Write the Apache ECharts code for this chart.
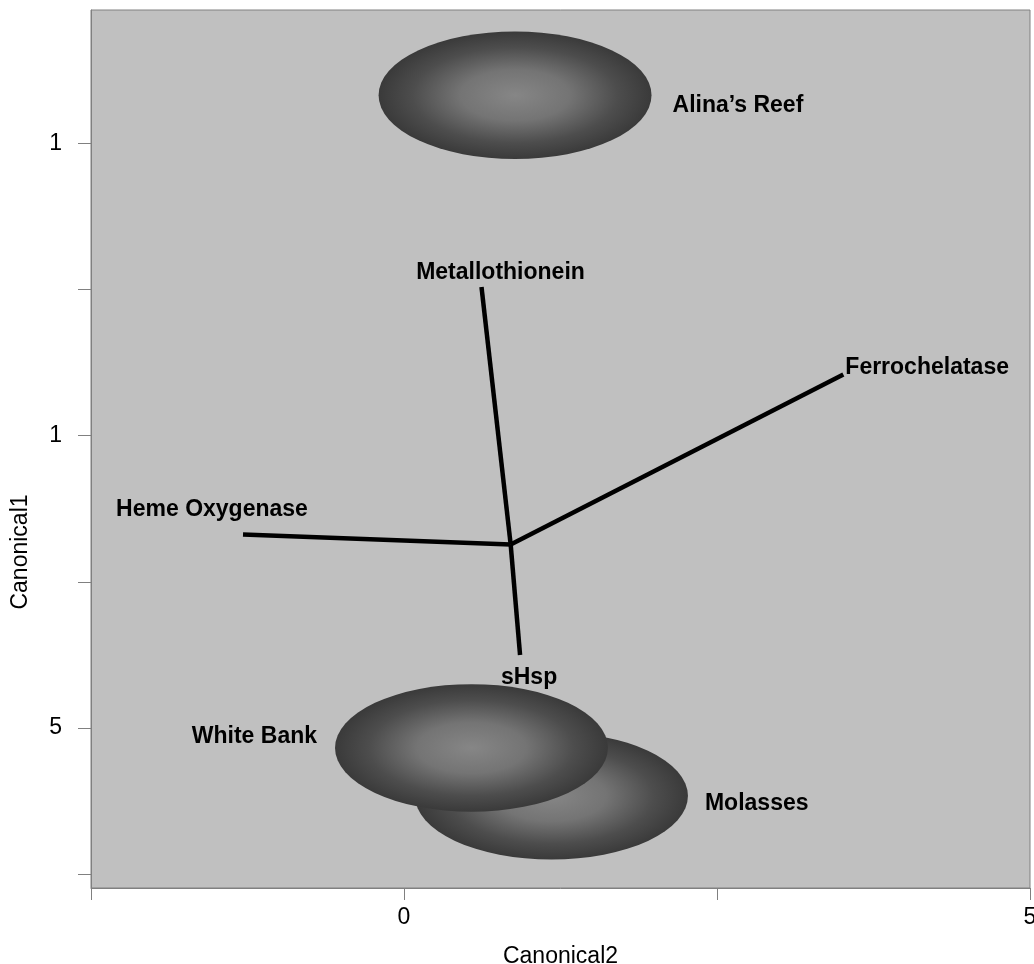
<!DOCTYPE html>
<html>
<head>
<meta charset="utf-8">
<script src="https://cdn.jsdelivr.net/npm/echarts@6/dist/echarts.min.js"></script>
<style>
  html, body { margin: 0; padding: 0; background: #ffffff; }
  #chart { width: 1034px; height: 964px; }
</style>
</head>
<body>
<div id="chart"></div>
<script>
// Site group centroids on (Canonical2, Canonical1) with their confidence radius
const siteNames = ['Alina’s Reef', 'Molasses', 'White Bank'];
const siteCanonical2 = [0.887, 1.178, 0.539];
const siteCanonical1 = [15.82, 3.84, 4.66];
const siteRadius = [1.09, 1.09, 1.09];

// Gene expression vectors, all drawn from one common origin
const vectorOrigin = [0.852, 8.138];
const geneNames = ['Metallothionein', 'Ferrochelatase', 'Heme Oxygenase', 'sHsp'];
const geneCanonical2 = [0.619, 3.509, -1.286, 0.927];
const geneCanonical1 = [12.54, 11.045, 8.31, 6.248];

// Axis tick positions and the text printed at them
const xTickValues = [-2.5, 0, 2.5, 5];
const xLabelValues = [0, 5];
const xLabelTexts = ['0', '5'];
const yTickValues = [2.5, 5, 7.5, 10, 12.5, 15];
const yLabelValues = [5, 10, 15];
const yLabelTexts = ['5', '1', '1'];

// Label placement (pixels) relative to each mark
const siteLabelPlacement = {
  'Alina’s Reef': { side: 'right', gap: 21, dy: 10 },
  'Molasses': { side: 'right', gap: 17, dy: 8 },
  'White Bank': { side: 'left', gap: 18, dy: -11 }
};
const geneLabelPlacement = {
  'Metallothionein': { dx: 19, dy: -14, align: 'center' },
  'Ferrochelatase': { dx: 2, dy: -7, align: 'left' },
  'Heme Oxygenase': { dx: -31, dy: -25, align: 'center' },
  'sHsp': { dx: 9, dy: 23, align: 'center' }
};

const FONT_FAMILY = '"Liberation Sans", Arial, Helvetica, sans-serif';
const LABEL_FONT = 'bold 23px ' + FONT_FAMILY;
const AXIS_FONT_SIZE = 23;

function lookupLabel(values, texts, v) {
  for (let i = 0; i < values.length; i++) {
    if (Math.abs(values[i] - v) < 1e-6) return texts[i];
  }
  return '';
}

function siteGradient() {
  return new echarts.graphic.RadialGradient(0.5, 0.5, 0.5, [
    { offset: 0, color: '#868686' },
    { offset: 0.4, color: '#747474' },
    { offset: 0.75, color: '#4d4d4d' },
    { offset: 1, color: '#3a3a3a' }
  ]);
}

function textEl(x, y, text, align) {
  return {
    type: 'text',
    x: x,
    y: y,
    style: {
      text: text,
      font: LABEL_FONT,
      fill: '#000000',
      textAlign: align,
      textVerticalAlign: 'middle',
      align: align,
      verticalAlign: 'middle'
    }
  };
}

const chart = echarts.init(document.getElementById('chart'), null, { renderer: 'canvas' });

const option = {
  animation: false,
  backgroundColor: '#ffffff',
  grid: {
    left: 91,
    right: 4,
    top: 10,
    bottom: 76,
    containLabel: false,
    outerBoundsMode: 'none',
    show: true,
    backgroundColor: '#c0c0c0',
    borderColor: '#808080',
    borderWidth: 1
  },
  xAxis: {
    type: 'value',
    min: -2.5,
    max: 5,
    interval: 2.5,
    name: 'Canonical2',
    nameLocation: 'middle',
    nameGap: 57,
    nameTextStyle: { fontFamily: FONT_FAMILY, fontSize: AXIS_FONT_SIZE, color: '#000000' },
    axisLine: { show: true, onZero: false, lineStyle: { color: '#808080', width: 1 } },
    axisTick: {
      show: true,
      length: 12,
      customValues: xTickValues,
      lineStyle: { color: '#808080', width: 1 }
    },
    axisLabel: {
      customValues: xLabelValues,
      formatter: v => lookupLabel(xLabelValues, xLabelTexts, v),
      margin: 18,
      fontFamily: FONT_FAMILY,
      fontSize: AXIS_FONT_SIZE,
      color: '#000000'
    },
    splitLine: { show: false }
  },
  yAxis: {
    type: 'value',
    min: 2.264,
    max: 17.278,
    axisLine: { show: true, onZero: false, lineStyle: { color: '#808080', width: 1 } },
    axisTick: {
      show: true,
      length: 13,
      customValues: yTickValues,
      lineStyle: { color: '#808080', width: 1 }
    },
    axisLabel: {
      customValues: yLabelValues,
      formatter: v => lookupLabel(yLabelValues, yLabelTexts, v),
      margin: 29,
      fontFamily: FONT_FAMILY,
      fontSize: AXIS_FONT_SIZE,
      color: '#000000'
    },
    splitLine: { show: false }
  },
  graphic: [
    {
      type: 'text',
      x: 21,
      y: 552,
      rotation: Math.PI / 2,
      style: {
        text: 'Canonical1',
        font: AXIS_FONT_SIZE + 'px ' + FONT_FAMILY,
        fill: '#000000',
        textAlign: 'center',
        textVerticalAlign: 'middle',
        align: 'center',
        verticalAlign: 'middle'
      }
    }
  ],
  series: [
    {
      name: 'sites',
      type: 'custom',
      coordinateSystem: 'cartesian2d',
      silent: true,
      data: siteNames.map((n, i) => [siteCanonical2[i], siteCanonical1[i], siteRadius[i]]),
      renderItem: function (params, api) {
        const c = api.coord([api.value(0), api.value(1)]);
        const s = api.size([api.value(2), api.value(2)]);
        const rx = s[0], ry = s[1];
        const name = siteNames[params.dataIndex];
        const p = siteLabelPlacement[name];
        const lx = p.side === 'right' ? c[0] + rx + p.gap : c[0] - rx - p.gap;
        return {
          type: 'group',
          children: [
            {
              type: 'circle',
              x: c[0],
              y: c[1],
              scaleY: ry / rx,
              shape: { cx: 0, cy: 0, r: rx },
              style: { fill: siteGradient() }
            },
            textEl(lx, c[1] + p.dy, name, p.side === 'right' ? 'left' : 'right')
          ]
        };
      }
    },
    {
      name: 'vectors',
      type: 'custom',
      coordinateSystem: 'cartesian2d',
      silent: true,
      data: geneNames.map((n, i) => [geneCanonical2[i], geneCanonical1[i]]),
      renderItem: function (params, api) {
        const o = api.coord(vectorOrigin);
        const e = api.coord([api.value(0), api.value(1)]);
        const name = geneNames[params.dataIndex];
        const p = geneLabelPlacement[name];
        return {
          type: 'group',
          children: [
            {
              type: 'line',
              shape: { x1: o[0], y1: o[1], x2: e[0], y2: e[1] },
              style: { stroke: '#000000', lineWidth: 4.5, lineCap: 'butt' }
            },
            textEl(e[0] + p.dx, e[1] + p.dy, name, p.align)
          ]
        };
      }
    }
  ]
};

chart.setOption(option);
</script>
</body>
</html>
